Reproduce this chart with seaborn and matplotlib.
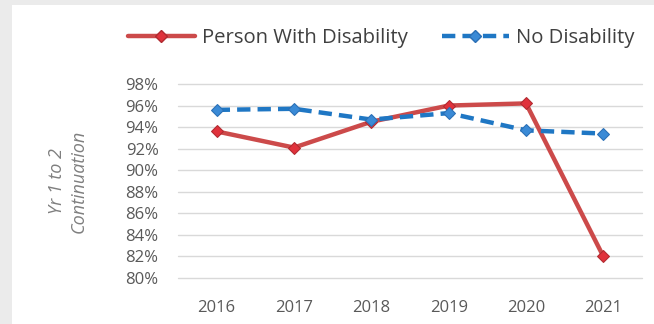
import matplotlib
matplotlib.use("Agg")
import matplotlib.pyplot as plt
from matplotlib.patches import Rectangle
from matplotlib.ticker import PercentFormatter
import pandas as pd
import seaborn as sns

years = ["2016", "2017", "2018", "2019", "2020", "2021"]
with_disability = [93.6, 92.1, 94.5, 96.0, 96.2, 82.0]
no_disability = [95.6, 95.7, 94.7, 95.3, 93.7, 93.4]
series_names = ["Person With Disability", "No Disability"]
y_ticks = [80, 82, 84, 86, 88, 90, 92, 94, 96, 98]

df = pd.DataFrame({
    "Year": years * 2,
    "Rate": with_disability + no_disability,
    "Group": [series_names[0]] * len(years) + [series_names[1]] * len(years),
})

sns.set_style("white")
plt.rcParams["font.family"] = ["Open Sans", "DejaVu Sans"]

fig = plt.figure(figsize=(6.54, 3.24), dpi=100, facecolor="#ebebeb")
fig.patches.append(Rectangle((12 / 654, 0), 1, 1 - 5 / 324, transform=fig.transFigure,
                             facecolor="white", edgecolor="none", zorder=-10))
ax = fig.add_axes([178 / 654, 1 - 278 / 324, (642 - 178) / 654, (278 - 84) / 324])
ax.set_facecolor("none")

palette = {series_names[0]: "#cc4a4a", series_names[1]: "#1f77c4"}
sns.lineplot(data=df, x="Year", y="Rate", hue="Group", style="Group",
             palette=palette, dashes={series_names[0]: "", series_names[1]: (3, 1.6)},
             markers={series_names[0]: "D", series_names[1]: "D"},
             markersize=6.5, linewidth=3.2, ax=ax, legend=False, sort=False)

lines = ax.get_lines()
lines[0].set_markerfacecolor("#e0323c")
lines[0].set_markeredgecolor("#b02a30")
lines[1].set_markerfacecolor("#3a8ad6")
lines[1].set_markeredgecolor("#2a6fb5")
for l in lines:
    l.set_clip_on(False)

ax.set_xlim(-0.5, len(years) - 0.5)
ax.set_ylim(80, 98)
ax.set_yticks(y_ticks)
ax.yaxis.set_major_formatter(PercentFormatter(decimals=0))
ax.grid(axis="y", color="#d9d9d9", linewidth=1)
for g in ax.get_ygridlines():
    g.set_clip_on(False)
ax.set_axisbelow(True)
for s in ax.spines.values():
    s.set_visible(False)
ax.tick_params(axis="both", length=0, labelcolor="#595959", labelsize=12)
ax.tick_params(axis="x", pad=16)
ax.tick_params(axis="y", pad=14)
ax.set_xlabel("")
ax.set_ylabel("Yr 1 to 2\nContinuation", fontstyle="italic", color="#7f7f7f",
              fontsize=13, labelpad=27, linespacing=1.3)

handles = [plt.Line2D([], [], color=l.get_color(), linestyle=l.get_linestyle(),
                      linewidth=3.2, marker="D", markersize=6.5,
                      markerfacecolor=l.get_markerfacecolor(),
                      markeredgecolor=l.get_markeredgecolor()) for l in lines]
handles[1].set_dashes((3, 1.6))
fig.legend(handles, series_names, loc="center", bbox_to_anchor=(381 / 654, 1 - 38 / 324),
           ncol=2, frameon=False, fontsize=14.6, handlelength=3.3, columnspacing=1.7,
           handletextpad=0.35, labelcolor="#404040")

fig.savefig("out.png", dpi=100, facecolor=fig.get_facecolor())
